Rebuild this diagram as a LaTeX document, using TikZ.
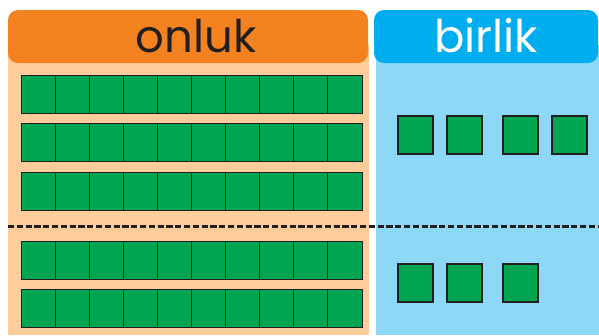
\documentclass[tikz,border=0pt]{standalone}
\usepackage{fontspec}
\setmainfont{Poppins}
\definecolor{onlukorange}{HTML}{F58220}
\definecolor{onlukpale}{HTML}{FDCC9B}
\definecolor{birlikblue}{HTML}{00AEEF}
\definecolor{birlikpale}{HTML}{8DD8F7}
\definecolor{blockgreen}{HTML}{00A551}
\definecolor{inkdark}{HTML}{231F20}
\begin{document}
\begin{tikzpicture}[
  x=1pt, y=-1pt,
  every node/.style={inner sep=0pt, outer sep=0pt},
  header/.style={
    rounded corners=10pt,
    minimum height=53pt
  },
  title/.style={font=\fontsize{45}{50}\selectfont, anchor=base},
  cell/.style={
    draw=inkdark,
    fill=blockgreen,
    line width=1pt,
    minimum width=34.1pt,
    minimum height=38.5pt
  },
  unit/.style={
    draw=inkdark,
    fill=blockgreen,
    line width=1.2pt,
    minimum width=35pt,
    minimum height=38pt
  },
  divider/.style={inkdark, line width=2.5pt, dash pattern=on 6.2pt off 2.6pt}
]
\useasboundingbox (0,0) rectangle (599,335);
% panels
\fill[onlukpale] (8,45) rectangle (369,335);
\fill[birlikpale] (376,45) rectangle (599,335);
\node[header, fill=onlukorange, minimum width=360pt] (onlukhead) at (188,36.5) {};
\node[header, fill=birlikblue, minimum width=224pt] (birlikhead) at (486,36.5) {};
\node[title, text=inkdark] (onluktext) at (196,52) {onluk};
\node[title, text=white] (birliktext) at (486,52) {birlik};
% tens
\foreach \row/\ytop in {1/75,2/123,3/172,4/241,5/289}
  \foreach \col in {1,...,10}
    \node[cell] (rod\row-\col) at ({21+34.1*(\col-0.5)},{\ytop+19.25}) {};
% ones
\foreach \n/\xl/\yt in {1/398/116,2/447/116,3/503/116,4/552/116,5/398/264,6/447/264,7/503/264}
  \node[unit] (unit\n) at ({\xl+17.5},{\yt+19}) {};
% dashed divider
\coordinate (divleft) at (8,226.5);
\coordinate (divright) at (599,226.5);
\draw[divider] (divleft) -- (divright);
\end{tikzpicture}
\end{document}
